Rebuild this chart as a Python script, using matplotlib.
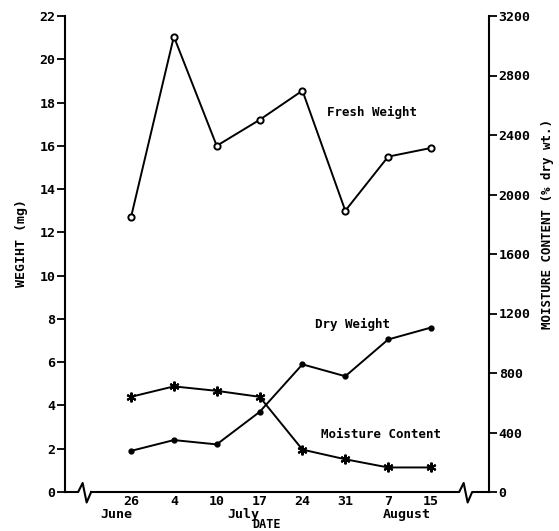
import matplotlib
matplotlib.use("Agg")
import matplotlib.pyplot as plt

# data
dates = ["26", "4", "10", "17", "24", "31", "7", "15"]
months = ["June", "July", "August"]
month_pos = [-0.35, 2.61, 6.44]
fresh_weight = [12.7, 21.05, 16.0, 17.2, 18.55, 13.0, 15.5, 15.9]
dry_weight = [1.9, 2.4, 2.2, 3.7, 5.9, 5.35, 7.05, 7.6]
moisture = [640, 710, 680, 640, 285, 220, 165, 165]
left_ticks = [0, 2, 4, 6, 8, 10, 12, 14, 16, 18, 20, 22]
right_ticks = [0, 400, 800, 1200, 1600, 2000, 2400, 2800, 3200]

mono = ["DejaVu Sans Mono"]
fs = 9.5

fig = plt.figure(figsize=(5.59, 5.31), dpi=100)
ax = fig.add_axes([65 / 559, 1 - 492 / 531, 424 / 559, 476 / 531])
ax2 = ax.twinx()

x = list(range(len(dates)))
ax.plot(x, fresh_weight, color="black", lw=1.4, marker="o", ms=4.5,
        mfc="white", mec="black", mew=1.4)
ax.plot(x, dry_weight, color="black", lw=1.4, marker="o", ms=3.5,
        mfc="black", mec="black")
ax2.plot(x, moisture, color="black", lw=1.4, marker=(6, 2, 0), ms=7,
         mec="black", mew=1.5)

ax.set_xlim(-1.54, 8.353)
ax.set_ylim(0, 22)
ax2.set_ylim(0, 3200)

ax.set_yticks(left_ticks)
ax.set_yticklabels([str(v) for v in left_ticks], fontfamily=mono,
                   fontweight="bold", fontsize=fs)
ax2.set_yticks(right_ticks)
ax2.set_yticklabels([str(v) for v in right_ticks], fontfamily=mono,
                    fontweight="bold", fontsize=fs)
ax.tick_params(axis="y", direction="out", length=6, width=1.3, pad=1)
ax2.tick_params(axis="y", direction="out", length=6, width=1.3, pad=1)

ax.set_xticks(x)
ax.set_xticklabels(dates, fontfamily=mono, fontweight="bold", fontsize=fs)
ax.tick_params(axis="x", length=0, pad=2.5)

for sp in ["top", "right", "bottom"]:
    ax.spines[sp].set_visible(False)
for sp in ["top", "left", "bottom"]:
    ax2.spines[sp].set_visible(False)
ax.spines["left"].set_linewidth(1.5)
ax2.spines["right"].set_linewidth(1.5)

# bottom axis line with break marks
px = 42.86
py = 476.0
xt = ax.get_xaxis_transform()


def zigzag(c):
    xs = [c - 7 / px, c - 2.5 / px, c + 1.5 / px, c + 6 / px]
    ys = [0, 9 / py, -10.5 / py, 0]
    return xs, ys


lb = -1.07
rb = 7.82
zx, zy = zigzag(lb)
ax.plot([-1.54] + zx, [0] + zy, color="black", lw=1.5, transform=xt, clip_on=False)
zx2, zy2 = zigzag(rb)
ax.plot([zx[-1]] + zx2 + [8.353], [0] + zy2 + [0], color="black", lw=1.5,
        transform=xt, clip_on=False)

for m, p in zip(months, month_pos):
    ax.text(p, -22.5 / py, m, transform=xt, ha="center", va="center",
            fontfamily=mono, fontweight="bold", fontsize=fs)
ax.text(3.15, -32.5 / py, "DATE", transform=xt, ha="center", va="center",
        fontfamily=mono, fontweight="bold", fontsize=8.5)

ax.text(4.57, 17.56, "Fresh Weight", ha="left", va="center",
        fontfamily=mono, fontweight="bold", fontsize=9)
ax.text(4.29, 7.76, "Dry Weight", ha="left", va="center",
        fontfamily=mono, fontweight="bold", fontsize=9)
ax.text(4.43, 2.68, "Moisture Content", ha="left", va="center",
        fontfamily=mono, fontweight="bold", fontsize=9)

fig.text(22 / 559, 1 - 243 / 531, "WEGIHT (mg)", rotation=90, ha="center",
         va="center", fontfamily=mono, fontweight="bold", fontsize=9.5)
fig.text(548 / 559, 1 - 224 / 531, "MOISTURE CONTENT (% dry wt.)", rotation=90,
         ha="center", va="center", fontfamily=mono, fontweight="bold", fontsize=9)

fig.savefig("out.png", dpi=100)
